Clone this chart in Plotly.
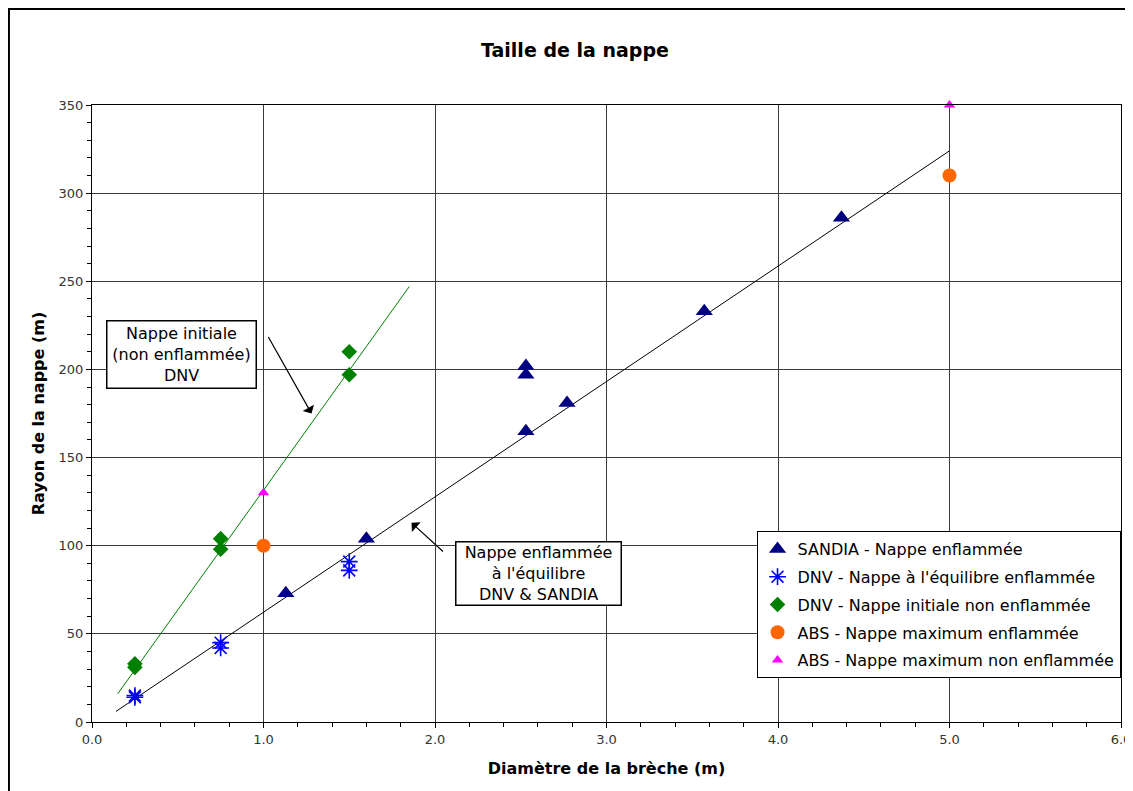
import plotly.graph_objects as go

# --- Data ---
sandia_x = [1.13, 1.6, 2.53, 2.53, 2.53, 2.77, 3.57, 4.37]
sandia_y = [73, 104, 165, 197, 202, 181, 233, 286]

dnv_eq_x = [0.25, 0.25, 0.75, 0.75, 1.5, 1.5]
dnv_eq_y = [15, 14, 45, 42, 91, 86]

dnv_init_x = [0.25, 0.25, 0.75, 0.75, 1.5, 1.5]
dnv_init_y = [33, 31, 104, 98, 210, 197]

abs_enf_x = [1.0, 5.0]
abs_enf_y = [100, 310]

abs_non_x = [1.0, 5.0]
abs_non_y = [130, 350]

trend_green_x = [0.15, 1.85]
trend_green_y = [16, 247]
trend_black_x = [0.14, 5.0]
trend_black_y = [6, 324]

x_ticks = [0, 1, 2, 3, 4, 5, 6]
x_ticklabels = ["0.0", "1.0", "2.0", "3.0", "4.0", "5.0", "6.0"]
y_ticks = [0, 50, 100, 150, 200, 250, 300, 350]

FONT = "DejaVu Sans, Verdana, sans-serif"

fig = go.Figure()

fig.add_trace(go.Scatter(x=trend_green_x, y=trend_green_y, mode="lines",
                         line=dict(color="#008000", width=1), showlegend=False, hoverinfo="skip"))
fig.add_trace(go.Scatter(x=trend_black_x, y=trend_black_y, mode="lines",
                         line=dict(color="black", width=1), showlegend=False, hoverinfo="skip"))

fig.add_trace(go.Scatter(x=sandia_x, y=sandia_y, mode="markers", name="SANDIA - Nappe enflammée",
                         legendgroup="a", cliponaxis=False,
                         marker=dict(symbol="triangle-up", size=15, color="#000080")))
fig.add_trace(go.Scatter(x=dnv_eq_x, y=dnv_eq_y, mode="markers", name="DNV - Nappe à l'équilibre enflammée",
                         legendgroup="b", cliponaxis=False,
                         marker=dict(symbol="asterisk-open", size=14, color="#0000FF",
                                     line=dict(color="#0000FF", width=1.6))))
fig.add_trace(go.Scatter(x=dnv_init_x, y=dnv_init_y, mode="markers", name="DNV - Nappe initiale non enflammée",
                         legendgroup="c", cliponaxis=False,
                         marker=dict(symbol="diamond", size=12, color="#008000")))
fig.add_trace(go.Scatter(x=abs_enf_x, y=abs_enf_y, mode="markers", name="ABS - Nappe maximum enflammée",
                         legendgroup="d", cliponaxis=False,
                         marker=dict(symbol="circle", size=14, color="#FF6600")))
fig.add_trace(go.Scatter(x=abs_non_x, y=abs_non_y, mode="markers", name="ABS - Nappe maximum non enflammée",
                         legendgroup="e", cliponaxis=False,
                         marker=dict(symbol="triangle-up", size=10, color="#FF00FF")))

axis_common = dict(
    showline=True, linecolor="black", linewidth=1, mirror=True,
    showgrid=True, gridcolor="#3a3a3a", gridwidth=1,
    ticks="outside", ticklen=5, tickcolor="black",
    tickfont=dict(family=FONT, size=13, color="#333333"),
    zeroline=False,
)

fig.update_xaxes(range=[0, 6], tickvals=x_ticks, ticktext=x_ticklabels,
                 minor=dict(dtick=0.2, ticks="outside", ticklen=4, tickcolor="black", showgrid=False),
                 title=dict(text="<b>Diamètre de la brèche (m)</b>", font=dict(family=FONT, size=16, color="black"),
                            standoff=17),
                 **axis_common)
fig.update_yaxes(range=[0, 350], tickvals=y_ticks,
                 minor=dict(dtick=10, ticks="outside", ticklen=4, tickcolor="black", showgrid=False),
                 title=dict(text="<b>Rayon de la nappe (m)</b>", font=dict(family=FONT, size=16, color="black"),
                            standoff=9),
                 **axis_common)

fig.update_layout(
    width=1133, height=791,
    margin=dict(l=84, r=20, t=97, b=77, autoexpand=False),
    paper_bgcolor="white", plot_bgcolor="white",
    title=dict(text="<b>Taille de la nappe</b>", x=0.5004, xanchor="center", y=0.947, yanchor="middle",
               font=dict(family=FONT, size=19, color="black")),
    legend=dict(x=0.6458, y=0.3096, xanchor="left", yanchor="top",
                bgcolor="white", bordercolor="black", borderwidth=1,
                font=dict(family=FONT, size=16, color="black"),
                tracegroupgap=4, itemwidth=30),
    showlegend=True,
    shapes=[dict(type="rect", xref="paper", yref="paper", x0=-0.0807, y0=-0.25, x1=1.08, y1=1.1556,
                 line=dict(color="black", width=2), fillcolor="rgba(0,0,0,0)", layer="below")],
    annotations=[
        dict(text="Nappe initiale<br>(non enflammée)<br>DNV", xref="paper", yref="paper",
             x=0.0865, y=0.595, xanchor="center", yanchor="middle", showarrow=False,
             font=dict(family=FONT, size=16, color="black"), bgcolor="white",
             bordercolor="black", borderwidth=1.5, width=146, height=64, align="center"),
        dict(text="Nappe enflammée<br>à l'équilibre<br>DNV & SANDIA", xref="paper", yref="paper",
             x=0.434, y=0.2407, xanchor="center", yanchor="middle", showarrow=False,
             font=dict(family=FONT, size=16, color="black"), bgcolor="white",
             bordercolor="black", borderwidth=1.5, width=162, height=60, align="center"),
        dict(text="", x=1.28, y=175, xref="x", yref="y", showarrow=True, arrowhead=1, arrowsize=1.8,
             arrowwidth=1.2, arrowcolor="black", ax=-44, ay=-78),
        dict(text="", x=1.863, y=113, xref="x", yref="y", showarrow=True, arrowhead=1, arrowsize=1.8,
             arrowwidth=1.2, arrowcolor="black", ax=33, ay=30),
    ],
)

fig.write_html("out.html")
